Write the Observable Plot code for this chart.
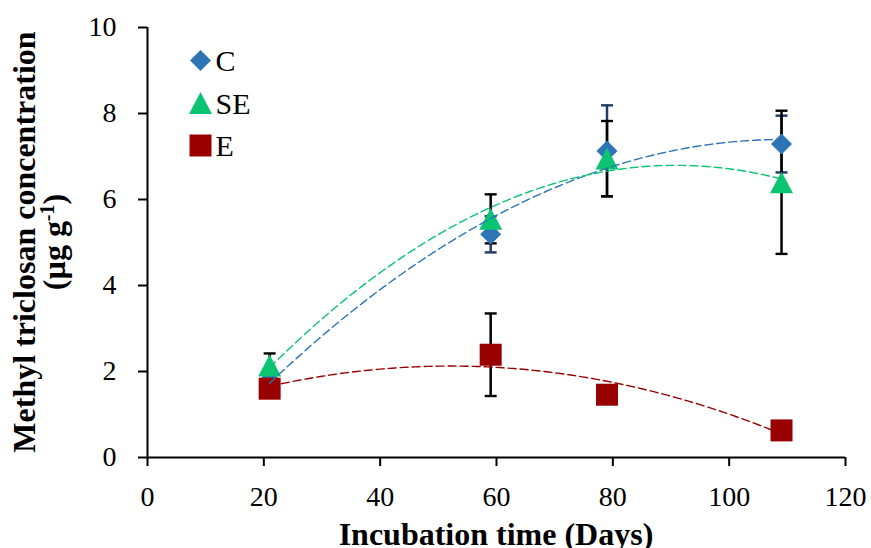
<!DOCTYPE html>
<html><head><meta charset="utf-8">
<script src="https://cdn.jsdelivr.net/npm/d3@7"></script>
<script src="https://cdn.jsdelivr.net/npm/@observablehq/plot@0.6"></script>
<style>
html,body{margin:0;padding:0;background:#fff;}
#chart{width:871px;height:548px;}
</style></head><body><div id="chart"></div>
<script>
// ---- data ----
const days = [21, 59, 79, 109];
const seriesNames = ["C", "SE", "E"];
const meanC  = [1.80, 5.19, 7.13, 7.29];
const errC   = [0.10, 0.42, 1.06, 0.66];
const meanSE = [2.14, 5.55, 6.95, 6.40];
const errSE  = [0.28, 0.57, 0.875, 1.665];
const meanE  = [1.60, 2.39, 1.46, 0.63];
const errE   = [0.10, 0.96, 0.10, 0.05];
const xTicks = [0, 20, 40, 60, 80, 100, 120];
const yTicks = [0, 2, 4, 6, 8, 10];
const xTitle = "Incubation time (Days)";
const yTitle1 = "Methyl triclosan concentration";

// ---- styles ----
const seriesColors = ["#2E75B6", "#0BC472", "#990000"];
const errColors = ["#1F3864", "#000000", "#000000"];
const FONT = "'Liberation Serif', 'Times New Roman', serif";

const means = [meanC, meanSE, meanE];
const errs = [errC, errSE, errE];
const rowsBy = seriesNames.map((s, i) => days.map((d, j) => ({series: s, day: d, v: means[i][j], e: errs[i][j]})));

// least-squares quadratic trendline (as Excel's polynomial order 2)
function quadFit(xs, ys) {
  let S = [0,0,0,0,0], T = [0,0,0];
  xs.forEach((x, k) => { for (let p = 0; p < 5; p++) S[p] += x ** p; for (let p = 0; p < 3; p++) T[p] += ys[k] * x ** p; });
  const A = [[S[0],S[1],S[2],T[0]],[S[1],S[2],S[3],T[1]],[S[2],S[3],S[4],T[2]]];
  for (let i = 0; i < 3; i++) {
    for (let k = i + 1; k < 3; k++) { const f = A[k][i] / A[i][i]; for (let j = i; j < 4; j++) A[k][j] -= f * A[i][j]; }
  }
  const c = [0,0,0];
  for (let i = 2; i >= 0; i--) { let s = A[i][3]; for (let j = i + 1; j < 3; j++) s -= A[i][j] * c[j]; c[i] = s / A[i][i]; }
  return x => c[0] + c[1] * x + c[2] * x * x;
}
const xs = d3.range(days[0], days[days.length - 1] + 0.01, 0.5);
const fits = means.map(m => { const f = quadFit(days, m); return xs.map(x => ({day: x, v: f(x)})); });

// symbols (sqrt(size) = s)
const rFor = s => s / Math.sqrt(Math.PI);
const diamondSym = {draw(ctx, size) { const h = Math.sqrt(size) / 2; ctx.moveTo(0, -h); ctx.lineTo(h, 0); ctx.lineTo(0, h); ctx.lineTo(-h, 0); ctx.closePath(); }};
const triangleSym = {draw(ctx, size) { const s = Math.sqrt(size); ctx.moveTo(0, -0.475 * s); ctx.lineTo(s / 2, 0.475 * s); ctx.lineTo(-s / 2, 0.475 * s); ctx.closePath(); }};
const squareSym = {draw(ctx, size) { const s = Math.sqrt(size); ctx.rect(-s / 2, -s / 2, s, s); }};
const capSym = {draw(ctx, size) { const s = Math.sqrt(size); ctx.moveTo(-s / 2, 0); ctx.lineTo(s / 2, 0); }};
const symbols = [diamondSym, triangleSym, squareSym];
const symSizes = [21, 23, 22];

const marks = [];
// error bars
rowsBy.forEach((rows, i) => {
  marks.push(Plot.ruleX(rows, {x: "day", y1: d => d.v - d.e, y2: d => d.v + d.e, stroke: errColors[i], strokeWidth: 2.5}));
  marks.push(Plot.dot(rows, {x: "day", y: d => d.v + d.e, symbol: capSym, r: rFor(12), stroke: errColors[i], strokeWidth: 2.4, fill: "none"}));
  marks.push(Plot.dot(rows, {x: "day", y: d => d.v - d.e, symbol: capSym, r: rFor(12), stroke: errColors[i], strokeWidth: 2.4, fill: "none"}));
});
// markers
rowsBy.forEach((rows, i) => {
  marks.push(Plot.dot(rows, {x: "day", y: "v", symbol: symbols[i], r: rFor(symSizes[i]), fill: seriesColors[i], stroke: "none"}));
});
// trendlines
fits.forEach((pts, i) => {
  marks.push(Plot.line(pts, {x: "day", y: "v", stroke: seriesColors[i], strokeWidth: 1.4, strokeDasharray: "8,4", curve: "linear"}));
});
// legend
seriesNames.forEach((s, i) => {
  marks.push(Plot.dot([s], {frameAnchor: "top-left", dx: 53, dy: 33 + 42.5 * i, symbol: symbols[i], r: rFor(symSizes[i]), fill: seriesColors[i]}));
  marks.push(Plot.text([s], {frameAnchor: "top-left", dx: 68, dy: 34 + 42.5 * i, text: d => d, textAnchor: "start", lineAnchor: "middle", fontSize: 30, fill: "#000"}));
});
// axes
marks.push(Plot.axisX({ticks: xTicks, tickSize: 9, tickPadding: 20, fontSize: 28, strokeWidth: 2, label: null, tickFormat: d => String(d)}));
marks.push(Plot.axisY({ticks: yTicks, tickSize: 9, tickPadding: 22, fontSize: 28, strokeWidth: 2, label: null, tickFormat: d => String(d)}));
marks.push(Plot.ruleX([0], {strokeWidth: 2, stroke: "#000"}));
marks.push(Plot.ruleY([0], {strokeWidth: 2, stroke: "#000"}));

const chart = Plot.plot({
  width: 871, height: 548,
  marginLeft: 147, marginRight: 26, marginTop: 27, marginBottom: 91,
  x: {domain: [0, 120]},
  y: {domain: [0, 10]},
  style: {fontFamily: FONT, color: "#000", background: "#fff", overflow: "visible"},
  marks
});
document.getElementById("chart").appendChild(chart);

// axis titles
const svg = d3.select(chart);
svg.append("text")
  .attr("x", 496).attr("y", 545)
  .attr("text-anchor", "middle")
  .attr("font-family", FONT).attr("font-weight", "bold").attr("font-size", 32)
  .attr("fill", "#000")
  .text(xTitle);
svg.append("text")
  .attr("transform", "translate(35,242) rotate(-90)")
  .attr("text-anchor", "middle")
  .attr("font-family", FONT).attr("font-weight", "bold").attr("font-size", 32)
  .attr("fill", "#000")
  .text(yTitle1);
const t2 = svg.append("text")
  .attr("transform", "translate(65,242) rotate(-90)")
  .attr("text-anchor", "middle")
  .attr("font-family", FONT).attr("font-weight", "bold").attr("font-size", 32)
  .attr("fill", "#000");
t2.append("tspan").text("(µg g");
t2.append("tspan").attr("dy", -11).attr("font-size", 20).text("-1");
t2.append("tspan").attr("dy", 11).text(")");
</script>
</body></html>
